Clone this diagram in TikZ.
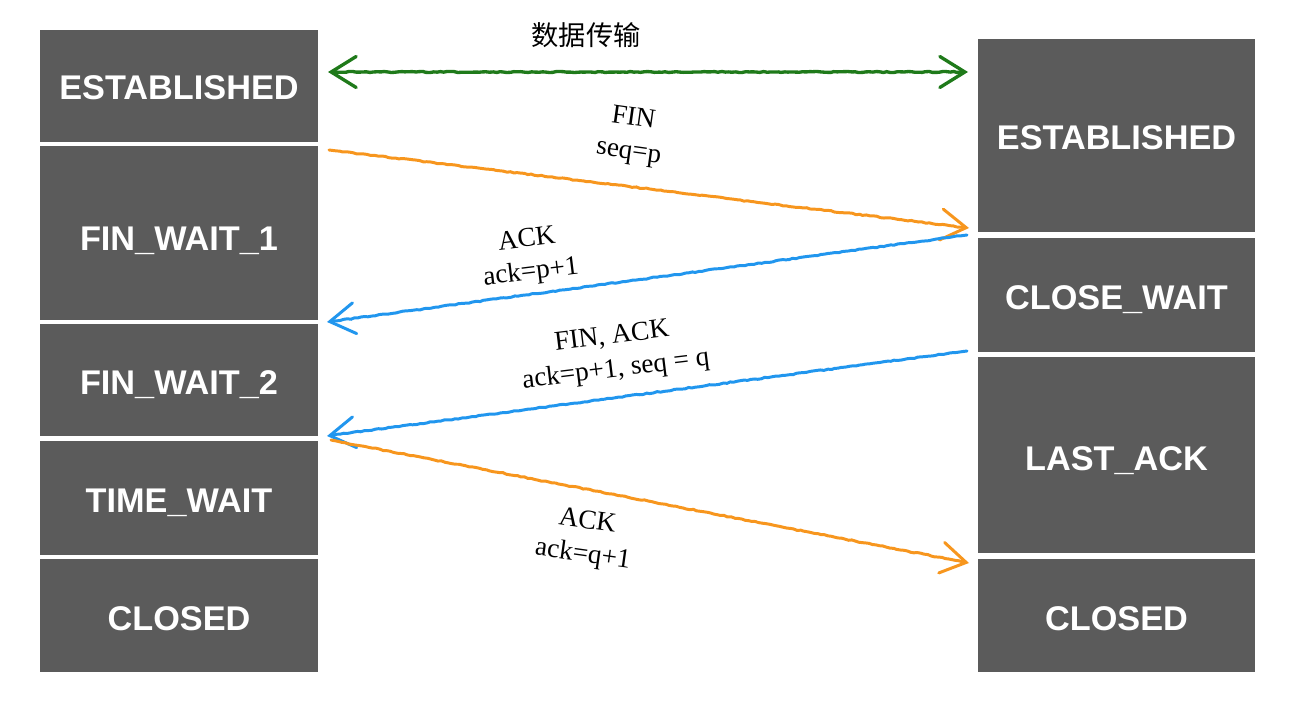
\documentclass[tikz,border=0pt]{standalone}
\usepackage{fontspec}
\setmainfont{Liberation Serif}
\newfontfamily\boxfont{Liberation Sans}
\newfontfamily\cjk{Noto Sans CJK SC}
\usetikzlibrary{arrows.meta,decorations.pathmorphing}
\definecolor{boxgray}{HTML}{5B5B5B}
\definecolor{ggreen}{HTML}{1F7A1A}
\definecolor{oorange}{HTML}{F7961E}
\definecolor{bblue}{HTML}{2196EE}
\tikzset{
  statebox/.style={fill=boxgray, draw=none, text=white, inner sep=0pt,
    text height=16.2pt, text depth=0pt,
    font=\boxfont\bfseries\fontsize{19.5}{21}\selectfont},
  barb/.tip={Straight Barb[length=0.5cm,width=0.62cm,line cap=round]},
  msg/.style={line width=1.7pt, line cap=round, -barb,
    decorate, decoration={random steps, segment length=2pt, amplitude=0.3pt,
      pre length=4pt, post length=4pt}},
  lbl/.style={font=\fontsize{15.5}{19}\selectfont, align=center, inner sep=1pt}
}
\begin{document}
\begin{tikzpicture}[x=0.02cm,y=-0.02cm]
\useasboundingbox (0,0) rectangle (1290,712);
% left states
\node[statebox, text height=15.2pt, minimum width=5.56cm, minimum height=2.24cm] (L1) at (179,86) {ESTABLISHED};
\node[statebox, text height=19.6pt, minimum width=5.56cm, minimum height=3.48cm] (L2) at (179,233) {FIN\_WAIT\_1};
\node[statebox, minimum width=5.56cm, minimum height=2.24cm] (L3) at (179,380) {FIN\_WAIT\_2};
\node[statebox, minimum width=5.56cm, minimum height=2.28cm] (L4) at (179,498) {TIME\_WAIT};
\node[statebox, text height=16.8pt, minimum width=5.56cm, minimum height=2.26cm] (L5) at (179,615.5) {CLOSED};
% right states
\node[statebox, minimum width=5.54cm, minimum height=3.86cm] (R1) at (1116.5,135.5) {ESTABLISHED};
\node[statebox, minimum width=5.54cm, minimum height=2.28cm] (R2) at (1116.5,295) {CLOSE\_WAIT};
\node[statebox, text height=17.4pt, minimum width=5.54cm, minimum height=3.92cm] (R3) at (1116.5,455) {LAST\_ACK};
\node[statebox, text height=16.8pt, minimum width=5.54cm, minimum height=2.26cm] (R4) at (1116.5,615.5) {CLOSED};
% connector end points
\coordinate (gL) at (328,72);
\coordinate (gR) at (968,72);
\coordinate (f1s) at (329,150);
\coordinate (f1e) at (969,228);
\coordinate (a1s) at (967,235);
\coordinate (a1e) at (327,322);
\coordinate (f2s) at (967,351);
\coordinate (f2e) at (327,436);
\coordinate (a2s) at (331,440);
\coordinate (a2e) at (969,563);
% connectors
\draw[msg, ggreen, line width=1.9pt, barb-barb] (gL) -- (gR);
\draw[msg, oorange] (f1s) -- (f1e);
\draw[msg, bblue] (a1s) -- (a1e);
\draw[msg, bblue] (f2s) -- (f2e);
\draw[msg, oorange] (a2s) -- (a2e);
% labels
\node[font=\cjk\fontsize{15.5}{17}\selectfont] (t0) at (586,35) {数据传输};
\node[lbl, rotate=-8] (t1) at (631,136) {FIN\\seq=p};
\node[lbl, rotate=7] (t2) at (529,257) {ACK\\ack=p+1};
\node[lbl, rotate=7] (t3) at (614,354) {FIN, ACK\\ack=p+1, seq = q};
\node[lbl, rotate=-8] (t4) at (585,539) {ACK\\ack=q+1};
\end{tikzpicture}
\end{document}
